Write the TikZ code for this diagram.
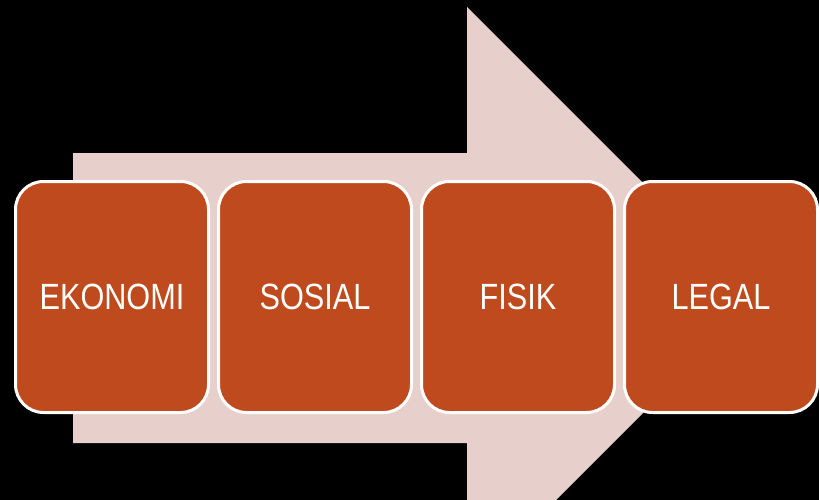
\documentclass[tikz,border=0pt]{standalone}
\usepackage{fontspec}
\newfontfamily\boxfont{Liberation Sans}[FakeStretch=0.84]
\usetikzlibrary{positioning}
\definecolor{arrowpink}{RGB}{231,208,203}
\definecolor{boxrust}{RGB}{190,74,30}
\tikzstyle{aspect} = [rectangle, rounded corners=28pt, minimum width=193pt, minimum height=231pt, text centered, draw=white, line width=3pt, fill=boxrust, text=white, font=\boxfont\fontsize{36.5}{40}\selectfont]

\begin{document}
\begin{tikzpicture}[x=1pt, y=-1pt, node distance=7pt]

\fill[black] (0,0) rectangle (819,500);
\useasboundingbox (0,0) rectangle (819,500);

% big arrow behind the boxes
\begin{scope}
\clip (0,0) rectangle (819,500);
\fill[arrowpink] (73,153) -- (467,153) -- (467,7) -- (758,298) -- (467,589) -- (467,443) -- (73,443) -- cycle;
\end{scope}

\node (ekonomi) [aspect] at (112,297) {EKONOMI};
\node (sosial) [aspect, right=of ekonomi] {SOSIAL};
\node (fisik) [aspect, right=of sosial] {FISIK};
\node (legal) [aspect, right=of fisik] {LEGAL};

\end{tikzpicture}
\end{document}
